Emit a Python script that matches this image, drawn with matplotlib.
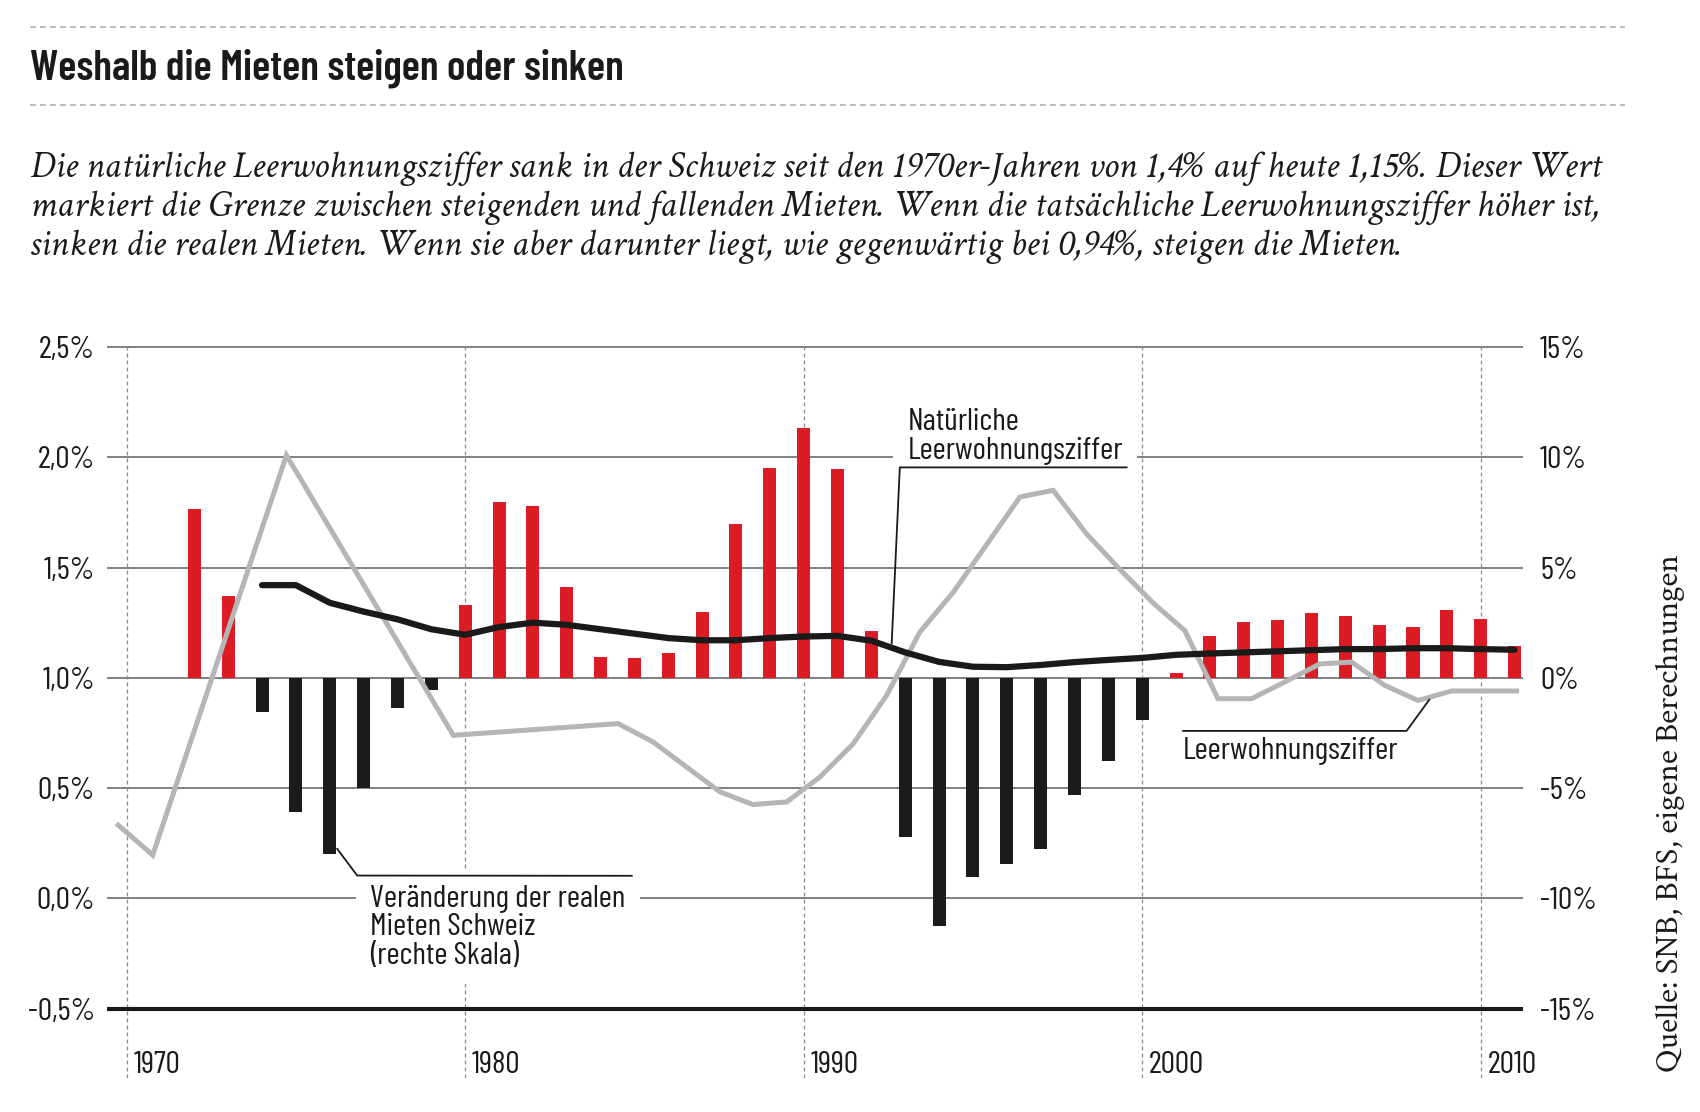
import os
import matplotlib
matplotlib.use("Agg")
import matplotlib.pyplot as plt
from matplotlib import font_manager as fm
from matplotlib.lines import Line2D

# values
years = list(range(1972, 2012))
# change of real rents in %, right scale
rent_change = [7.65, 3.70, -1.57, -6.09, -7.98, -4.99, -1.36, -0.57,
               3.32, 7.98, 7.80, 4.13, 0.96, 0.89, 1.13, 2.99, 6.97, 9.49,
               11.33, 9.47, 2.11, -7.24, -11.24, -9.05, -8.46, -7.77, -5.32, -3.76,
               -1.93, 0.21, 1.90, 2.53, 2.62, 2.93, 2.82, 2.41, 2.32, 3.09,
               2.65, 1.42]

# natural vacancy rate in %, left scale
natural_years = list(range(1974, 2012))
natural_rate = [1.42, 1.42, 1.34, 1.30, 1.265, 1.22,
                1.195, 1.23, 1.25, 1.24, 1.22, 1.20, 1.18, 1.17, 1.17, 1.18,
                1.187, 1.19, 1.168, 1.115, 1.072, 1.05, 1.048, 1.058, 1.071, 1.081,
                1.09, 1.104, 1.11, 1.115, 1.12, 1.125, 1.13, 1.13, 1.134, 1.134,
                1.13, 1.127]

# actual vacancy rate in %, left scale
vacancy_x = [1969.75, 1970.77, 1974.72, 1979.65, 1984.52, 1985.55, 1987.52,
             1988.5, 1989.5, 1990.48, 1991.46, 1992.45, 1993.43, 1994.42,
             1996.39, 1997.37, 1998.36, 1999.35, 2000.33, 2001.26, 2002.24,
             2003.23, 2004.2, 2005.25, 2006.19, 2007.17, 2008.15, 2009.14,
             2010.1, 2011.06]
vacancy_rate = [0.332, 0.196, 2.009, 0.739, 0.792, 0.709, 0.483,
                0.425, 0.437, 0.55, 0.70, 0.92, 1.207, 1.388,
                1.82, 1.85, 1.652, 1.49, 1.338, 1.214, 0.905,
                0.905, 0.98, 1.063, 1.071, 0.965, 0.897, 0.94,
                0.94, 0.94]

left_ticks = [2.5, 2.0, 1.5, 1.0, 0.5, 0.0, -0.5]
left_labels = ["2,5%", "2,0%", "1,5%", "1,0%", "0,5%", "0,0%", "-0,5%"]
right_ticks = [15, 10, 5, 0, -5, -10, -15]
right_labels = ["15%", "10%", "5%", "0%", "-5%", "-10%", "-15%"]
decades = [1970, 1980, 1990, 2000, 2010]

title = "Weshalb die Mieten steigen oder sinken"
intro = ["Die natürliche Leerwohnungsziffer sank in der Schweiz seit den 1970er-Jahren von 1,4% auf heute 1,15%. Dieser Wert",
         "markiert die Grenze zwischen steigenden und fallenden Mieten. Wenn die tatsächliche Leerwohnungsziffer höher ist,",
         "sinken die realen Mieten. Wenn sie aber darunter liegt, wie gegenwärtig bei 0,94%, steigen die Mieten."]
source = "Quelle: SNB, BFS, eigene Berechnungen"

RED = "#db1c24"
BARBLACK = "#1c1a1d"
INK = "#1a1a1a"
GREY = "#b5b5b5"

# fonts, picked by file so the condensed cuts are used
font_files = {os.path.basename(f.fname): f.fname for f in fm.fontManager.ttflist}


def pick(choices, **fallback):
    for c in choices:
        if c in font_files:
            return fm.FontProperties(fname=font_files[c])
    return fm.FontProperties(**fallback)


cond = pick(["BarlowCondensed-Regular.ttf", "FiraSansCondensed-Regular.ttf",
             "DejaVuSansCondensed.ttf"], family="DejaVu Sans")
cond_bold = pick(["BarlowCondensed-SemiBold.ttf", "FiraSansCondensed-SemiBold.ttf",
                  "DejaVuSansCondensed-Bold.ttf"], family="DejaVu Sans", weight="bold")
serif_it = pick(["EBGaramond-Italic.ttf", "CormorantGaramond-Italic.ttf",
                 "CrimsonText-Italic.ttf", "LiberationSerif-Italic.ttf"],
                family="DejaVu Serif", style="italic")
serif = pick(["EBGaramond-Regular.ttf", "CrimsonText-Regular.ttf",
              "LiberationSerif-Regular.ttf"], family="DejaVu Serif")


def fp(base, size):
    p = base.copy()
    p.set_size(size)
    return p


W, H = 1700, 1112
fig = plt.figure(figsize=(W / 100, H / 100), dpi=100)
rend = fig.canvas.get_renderer()


def fit(t, target, vertical=False):
    bb = t.get_window_extent(renderer=rend)
    size = bb.height if vertical else bb.width
    t.set_fontsize(t.get_fontsize() * target / size)
    return t.get_fontsize()


# header
for py in (27, 105):
    fig.add_artist(Line2D([30 / W, 1625 / W], [1 - py / H] * 2, color="#b0b0b0",
                          lw=1.2, ls=(0, (3.5, 2.5))))
t = fig.text(30 / W, 1 - 80 / H, title, fontproperties=fp(cond_bold, 26), color=INK)
fit(t, 593)

intro_txt = [fig.text(30 / W, 1 - b / H, s, fontproperties=fp(serif_it, 24), color=INK)
             for s, b in zip(intro, (177, 216, 255))]
fs = fit(intro_txt[0], 1572)
for t in intro_txt[1:]:
    t.set_fontsize(fs)

src = fig.text(1670 / W, 1 - 813 / H, source, rotation=90, ha="center", va="center",
               fontproperties=fp(serif, 21), color=INK)
fit(src, 520, vertical=True)

# plot area: ax carries the bars (right scale), ax2 the lines (left scale)
x0, x1, y0, y1 = 106.7, 1523, 345, 1078
ax = fig.add_axes([x0 / W, 1 - y1 / H, (x1 - x0) / W, (y1 - y0) / H])
ax2 = ax.twinx()
left_lim = (-0.815, 2.509)
ax2.set_ylim(left_lim)
ax.set_ylim((left_lim[0] - 1) * 10, (left_lim[1] - 1) * 10)
ax.set_xlim(1969.41, 2011.25)
ax.set_xticks([])

for v in right_ticks[:-1]:
    ax.axhline(v, color="#5e5e5e", lw=1.1, zorder=1)
ax.axhline(right_ticks[-1], color=INK, lw=3.0, zorder=3)
for d in decades:
    ax.axvline(d, color="#8a8a8a", lw=0.9, ls=(0, (3.2, 2.4)), zorder=1)

bar_colors = [RED if v > 0 else BARBLACK for v in rent_change]
ax.bar(years, rent_change, width=0.385, color=bar_colors, zorder=2)

ax2.plot(vacancy_x, vacancy_rate, color=GREY, lw=3.6, zorder=4,
         solid_joinstyle="miter")
ax2.plot(natural_years, natural_rate, color=INK, lw=4.5, zorder=5,
         solid_capstyle="round", solid_joinstyle="round")

for a in (ax, ax2):
    for s in a.spines.values():
        s.set_visible(False)


def ypix(py):
    # pixel row of the reference -> left-scale value
    return 2.5 - (py - 347) / 221


def label(x, baselines, lines, size):
    # white masks first (they break the grid lines), the text on top
    for b, s in zip(baselines, lines):
        ax2.text(x, ypix(b), s, va="baseline", ha="left", fontproperties=fp(cond, size),
                 color="none", zorder=3,
                 bbox=dict(boxstyle="square,pad=0.45", fc="white", ec="none"))
    for b, s in zip(baselines, lines):
        ax2.text(x, ypix(b), s, va="baseline", ha="left", fontproperties=fp(cond, size),
                 color=INK, zorder=3.5)


# size the chart text from the bottom label
probe = ax2.text(2001.21, ypix(760), "Leerwohnungsziffer", va="baseline",
                 fontproperties=fp(cond, 20))
afs = fit(probe, 216)
probe.remove()

label(1993.07, (430, 459), ["Natürliche", "Leerwohnungsziffer"], afs)
label(1977.20, (908, 936.5, 965), ["Veränderung der realen", "Mieten Schweiz",
                                    "(rechte Skala)"], afs)
label(2001.21, (760,), ["Leerwohnungsziffer"], afs)

leaders = [
    ([1992.60, 1992.84, 1999.54], [1.156, 1.954, 1.954]),
    ([1976.22, 1976.81, 1984.92], [0.224, 0.103, 0.102]),
    ([2001.21, 2007.81, 2008.48], [0.759, 0.759, 0.900]),
]
for lx, ly in leaders:
    ax2.plot(lx, ly, color=INK, lw=1.3, zorder=6)

for d in decades:
    ax2.text(d + 0.2, ypix(1075), str(d), va="baseline", ha="left",
             fontproperties=fp(cond, afs), color=INK)

ax2.set_yticks(left_ticks)
ax2.set_yticklabels(left_labels, fontproperties=fp(cond, afs), color=INK)
ax.set_yticks(right_ticks)
ax.set_yticklabels(right_labels, fontproperties=fp(cond, afs), color=INK)
ax.yaxis.tick_right()
ax2.yaxis.tick_left()
ax2.tick_params(axis="y", length=0, pad=8.4)
ax.tick_params(axis="y", length=0, pad=12.2)

fig.savefig("out.png", dpi=100)
